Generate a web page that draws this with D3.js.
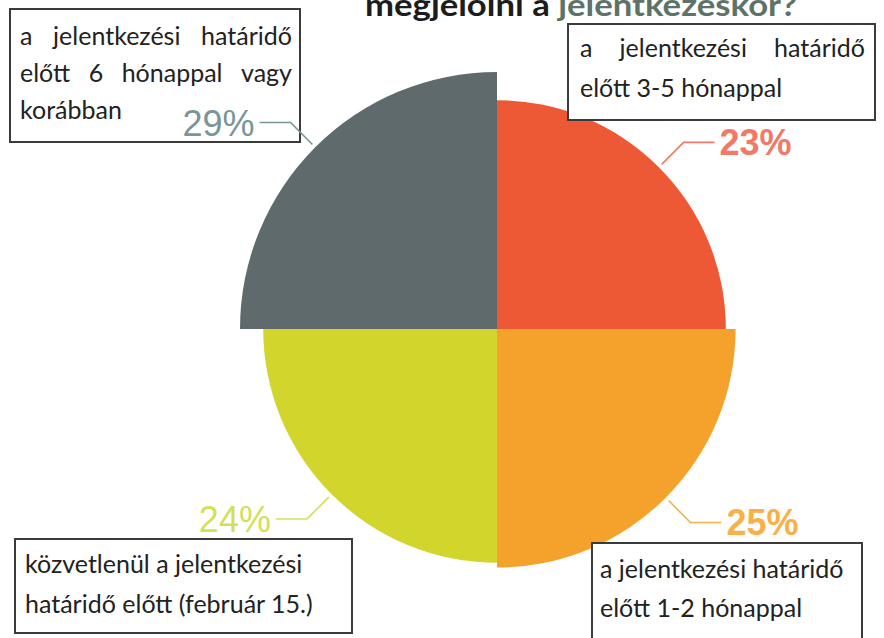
<!DOCTYPE html>
<html>
<head>
<meta charset="utf-8">
<script src="https://d3js.org/d3.v7.min.js"></script>
<style>
	body { margin: 0; background: #fff; }
	svg { display: block; }
	.boxtext { font-family: Lato, "Open Sans", sans-serif; font-size: 25px; fill: #222; }
	.pct { font-family: "Liberation Sans", Arial, sans-serif; font-size: 36px; }
	.title { font-family: Lato, sans-serif; font-weight: bold; font-size: 31px; }
</style>
</head>
<body>
<script>
// ------------------------------------------------------------
// data (clockwise from 12 o'clock)
// ------------------------------------------------------------
var categories = [
	"a jelentkezési határidő előtt 3-5 hónappal",
	"a jelentkezési határidő előtt 1-2 hónappal",
	"közvetlenül a jelentkezési határidő előtt (február 15.)",
	"a jelentkezési határidő előtt 6 hónappal vagy korábban"
];
var values = [23, 25, 24, 29];
var pctLabels = ["23%", "25%", "24%", "29%"];
// how the label text is broken into lines inside each box
var boxLines = [
	["a jelentkezési határidő", "előtt 3-5 hónappal"],
	["a jelentkezési határidő", "előtt 1-2 hónappal"],
	["közvetlenül a jelentkezési", "határidő előtt (február 15.)"],
	["a jelentkezési határidő", "előtt 6 hónappal vagy", "korábban"]
];
var titleParts = ["megjelölni a ", "jelentkezéskor?"];

// styles
var sliceColors = ["#ee5935", "#f4a22b", "#d2d52c", "#5f6a6d"];
var labelColors = ["#f07968", "#f8b04a", "#d3df58", "#7a9597"];
var labelWeights = ["bold", "bold", "normal", "normal"];

var W = 884, H = 638;
var cx = 497, cy = 329;

var svg = d3.select("body").append("svg")
	.attr("width", W).attr("height", H);

// title (cut off at the top of the picture)
var title = svg.append("text").attr("class", "title")
	.attr("x", 365).attr("y", 16)
	.attr("textLength", 432).attr("lengthAdjust", "spacingAndGlyphs");
title.append("tspan").text(titleParts[0]).attr("fill", "#1c1c1c");
title.append("tspan").text(titleParts[1]).attr("fill", "#5e7269");

// radius ~ sqrt(value) so area follows value, every slice gets a quarter
var rScale = d3.scaleSqrt().domain([0, d3.max(values)]).range([0, 257]);

var pie = d3.pie().value(function () { return 1; }).sort(null);
var arcs = pie(values);

var arc = d3.arc()
	.innerRadius(0)
	.outerRadius(function (d) { return rScale(d.data); });

var g = svg.append("g").attr("transform", "translate(" + cx + "," + cy + ")");
g.selectAll("path").data(arcs).enter().append("path")
	.attr("d", arc)
	.attr("fill", function (d, i) { return sliceColors[i]; });

// ------------------------------------------------------------
// label boxes
// ------------------------------------------------------------
var boxes = [
	{ x: 568, y: 24, w: 307, h: 96, tx: 580, base: [57, 97], just: [true, false] },
	{ x: 592, y: 543, w: 270, h: 110, tx: 600, base: [578, 617], just: [false, false] },
	{ x: 15, y: 539, w: 337, h: 94, tx: 25, base: [573, 613], just: [false, false] },
	{ x: 10, y: 9, w: 290, h: 133, tx: 20, base: [45, 82, 119], just: [true, true, false] }
];

boxes.forEach(function (b, i) {
	svg.append("rect")
		.attr("x", b.x).attr("y", b.y).attr("width", b.w).attr("height", b.h)
		.attr("fill", "#fff").attr("stroke", "#3b3b3b").attr("stroke-width", 2);

	var right = b.x + b.w - (b.tx - b.x) + 2;
	boxLines[i].forEach(function (line, j) {
		if (!b.just[j]) {
			svg.append("text").attr("class", "boxtext")
				.attr("x", b.tx).attr("y", b.base[j]).text(line);
			return;
		}
		// justified line: spread the words to fill the box
		var words = line.split(" ");
		var nodes = words.map(function (w) {
			return svg.append("text").attr("class", "boxtext").attr("y", b.base[j]).text(w);
		});
		var widths = nodes.map(function (n) { return n.node().getComputedTextLength(); });
		var gap = (right - b.tx - d3.sum(widths)) / (words.length - 1);
		var x = b.tx;
		nodes.forEach(function (n, k) {
			n.attr("x", x);
			x += widths[k] + gap;
		});
	});
});

// ------------------------------------------------------------
// percent labels with leader lines
// ------------------------------------------------------------
arcs.forEach(function (d, i) {
	var r = rScale(d.data);
	var mid = (d.startAngle + d.endAngle) / 2;
	var sx = Math.sin(mid), sy = -Math.cos(mid);
	var p0 = [cx + sx * (r + 4), cy + sy * (r + 4)];
	var p1 = [cx + sx * (r + 35), cy + sy * (r + 35)];
	var dir = sx > 0 ? 1 : -1;
	var p2 = [p1[0] + dir * 31, p1[1]];

	svg.append("path")
		.attr("d", d3.line()([p0, p1, p2]))
		.attr("fill", "none")
		.attr("stroke", labelColors[i])
		.attr("stroke-width", 1.6);

	svg.append("text").attr("class", "pct")
		.attr("x", p2[0] + dir * 5)
		.attr("y", p2[1] + 13)
		.attr("text-anchor", dir > 0 ? "start" : "end")
		.attr("fill", labelColors[i])
		.attr("font-weight", labelWeights[i])
		.text(pctLabels[i]);
});
</script>
</body>
</html>
